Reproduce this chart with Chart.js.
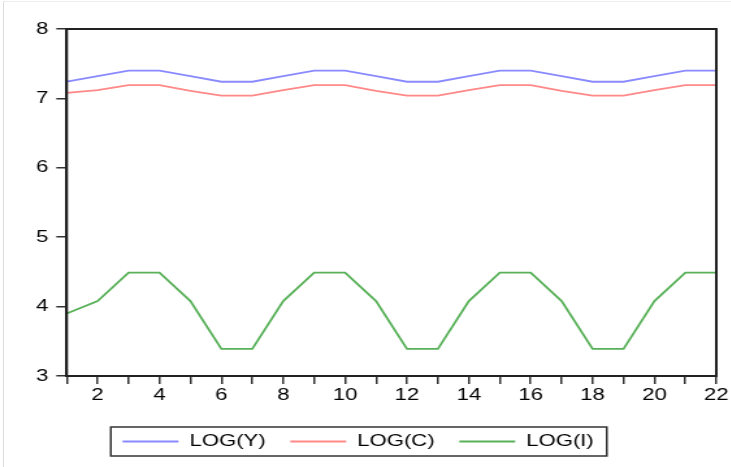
<!DOCTYPE html>
<html>
<head>
<meta charset="utf-8">
<title>LOG(Y), LOG(C), LOG(I)</title>
<script src="https://cdn.jsdelivr.net/npm/chart.js@4"></script>
<style>
  html, body { margin: 0; padding: 0; background: #fff; }
  body { width: 731px; height: 467px; overflow: hidden; position: relative; }
  #edge { position: absolute; left: 3px; top: 1px; width: 760px; height: 500px;
          border-left: 1px solid #dcdcdc; border-top: 1px solid #eeeeee; }
  /* the chart is drawn narrow and stretched sideways, like the exported graph */
  #wrap { position: absolute; left: 0; top: 0; width: 562px; height: 467px;
          transform: scaleX(1.3); transform-origin: 0 0; }
</style>
</head>
<body>
<div id="edge"></div>
<div id="wrap"><canvas id="chart"></canvas></div>
<script>
// periods 1..22
const periods = [1, 2, 3, 4, 5, 6, 7, 8, 9, 10, 11, 12, 13, 14, 15, 16, 17, 18, 19, 20, 21, 22];

const logY = [7.24, 7.32, 7.40, 7.40, 7.32, 7.24, 7.24, 7.32, 7.40, 7.40, 7.32,
              7.24, 7.24, 7.32, 7.40, 7.40, 7.32, 7.24, 7.24, 7.32, 7.40, 7.40];
const logC = [7.08, 7.12, 7.19, 7.19, 7.11, 7.04, 7.04, 7.12, 7.19, 7.19, 7.11,
              7.04, 7.04, 7.12, 7.19, 7.19, 7.11, 7.04, 7.04, 7.12, 7.19, 7.19];
const logI = [3.90, 4.08, 4.49, 4.49, 4.08, 3.39, 3.39, 4.08, 4.49, 4.49, 4.08,
              3.39, 3.39, 4.08, 4.49, 4.49, 4.08, 3.39, 3.39, 4.08, 4.49, 4.49];

const yMin = 3;
const yMax = 8;

const tickFont = { family: 'Liberation Sans, Arial, sans-serif', size: 17 };

// box around the plot area (top and right sides too)
const plotFrame = {
    id: 'plotFrame',
    afterDraw(chart) {
        const a = chart.chartArea;
        const ctx = chart.ctx;
        ctx.save();
        ctx.strokeStyle = '#222';
        ctx.lineWidth = 2;
        ctx.strokeRect(a.left, a.top, a.right - a.left, a.bottom - a.top);
        ctx.restore();
    }
};

// border round the legend items
const legendFrame = {
    id: 'legendFrame',
    afterDraw(chart) {
        const boxes = chart.legend.legendHitBoxes;
        if (!boxes || !boxes.length) return;
        const left = Math.min(...boxes.map(b => b.left)) - 9;
        const right = Math.max(...boxes.map(b => b.left + b.width)) + 10;
        const top = boxes[0].top - 6;
        const bottom = boxes[0].top + boxes[0].height + 6;
        const ctx = chart.ctx;
        ctx.save();
        ctx.strokeStyle = '#333';
        ctx.lineWidth = 1.5;
        ctx.strokeRect(left, top, right - left, bottom - top);
        ctx.restore();
    }
};

function makeSeries(label, values, color) {
    return {
        label: label,
        data: values,
        borderColor: color,
        backgroundColor: color,
        borderWidth: 1.8,
        pointRadius: 0,
        pointStyle: 'line',
        tension: 0
    };
}

new Chart(document.getElementById('chart'), {
    type: 'line',
    data: {
        labels: periods,
        datasets: [
            makeSeries('LOG(Y)', logY, '#8a8aff'),
            makeSeries('LOG(C)', logC, '#ff8888'),
            makeSeries('LOG(I)', logI, '#58b058')
        ]
    },
    options: {
        responsive: true,
        maintainAspectRatio: false,
        animation: false,
        layout: { padding: { top: 29, right: 11, left: 0, bottom: 7 } },
        plugins: {
            tooltip: { enabled: false },
            legend: {
                position: 'bottom',
                labels: {
                    usePointStyle: true,
                    pointStyleWidth: 43,
                    padding: 19,
                    color: '#000',
                    font: tickFont
                }
            }
        },
        scales: {
            x: {
                type: 'category',
                offset: false,
                afterFit(scale) { scale.height = 38; },
                grid: { drawOnChartArea: false, drawTicks: true, tickLength: 8, color: '#333', lineWidth: 1.5 },
                border: { display: true, color: '#222', width: 2 },
                ticks: {
                    autoSkip: false,
                    maxRotation: 0,
                    padding: 1,
                    color: '#000',
                    font: tickFont,
                    callback: (v, i) => (periods[i] % 2 === 0 ? String(periods[i]) : '')
                }
            },
            y: {
                min: yMin,
                max: yMax,
                afterFit(scale) { scale.width = 51.3; },
                grid: { drawOnChartArea: false, drawTicks: true, tickLength: 8, color: '#333', lineWidth: 1.5 },
                border: { display: true, color: '#222', width: 2 },
                ticks: { stepSize: 1, padding: 6, color: '#000', font: tickFont }
            }
        }
    },
    plugins: [plotFrame, legendFrame]
});
</script>
</body>
</html>
